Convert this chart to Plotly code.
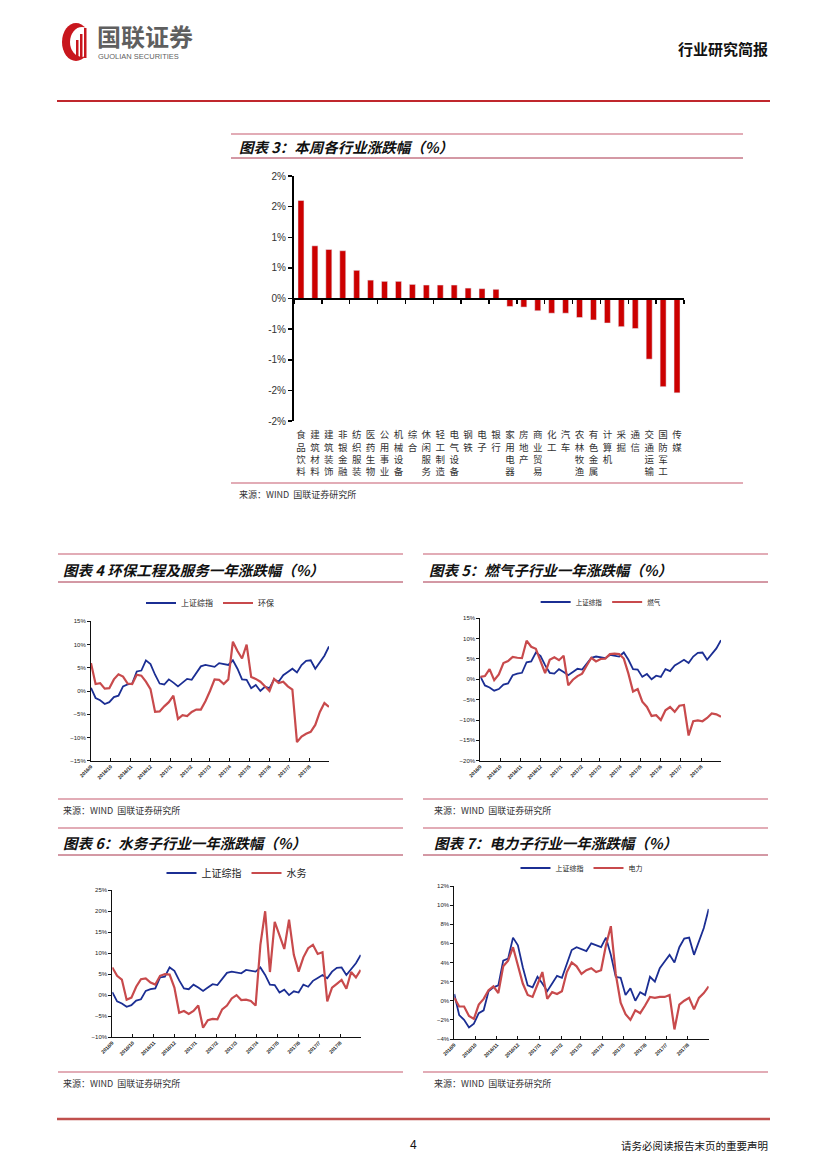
import pandas as pd
import plotly.graph_objects as go

W, H = 827, 1169

# ---------------- data: chart 3 (weekly industry change, %) ----------------
industries = ["食品饮料", "建筑材料", "建筑装饰", "非银金融", "纺织服装", "医药生物", "公用事业",
              "机械设备", "综合", "休闲服务", "轻工制造", "电气设备", "钢铁", "电子", "银行",
              "家用电器", "房地产", "商业贸易", "化工", "汽车", "农林牧渔", "有色金属", "计算机",
              "采掘", "通信", "交通运输", "国防军工", "传媒"]
weekly_change = [1.60, 0.86, 0.80, 0.78, 0.46, 0.30, 0.28, 0.28, 0.23, 0.22, 0.22, 0.22, 0.17,
                 0.16, 0.15, -0.13, -0.14, -0.20, -0.24, -0.24, -0.31, -0.35, -0.40, -0.46,
                 -0.49, -0.99, -1.44, -1.54]
bar_tickvals = [-2, -1.5, -1, -0.5, 0, 0.5, 1, 1.5, 2]
bar_ticktext = ["-2%", "-2%", "-1%", "-1%", "0%", "1%", "1%", "2%", "2%"]

# ---------------- data: one-year change (%), weekly readings ----------------
dates = pd.date_range("2016-09-01", periods=53, freq="7D")
sh_index = [0.7, -1.5, -2.0, -2.8, -2.4, -1.3, -1.0, 1.0, 1.4, 1.6,
            4.2, 4.4, 6.6, 5.8, 3.5, 1.6, 1.4, 2.5, 1.8, 1.0,
            1.8, 2.6, 2.4, 3.8, 5.3, 5.6, 5.4, 5.2, 6.0, 5.8,
            5.6, 6.6, 4.8, 2.5, 2.4, 0.6, 1.3, 0.0, 0.9, 0.6,
            2.5, 2.0, 3.4, 4.1, 4.8, 4.0, 5.6, 6.5, 6.6, 4.8,
            6.3, 7.6, 9.6]
env = [6.0, 1.5, 1.7, 0.5, 0.6, 2.5, 3.6, 3.1, 1.6, 1.5,
       3.5, 3.3, 2.0, 0.4, -4.5, -4.4, -3.3, -2.4, -1.0, -6.0,
       -5.2, -5.4, -4.5, -4.0, -4.0, -2.2, 0.0, 2.5, 2.4, 1.5,
       2.5, 10.6, 8.6, 7.0, 10.0, 3.0, 2.6, 2.0, 1.0, 0.0,
       2.6, 1.7, 2.0, 1.0, 0.3, -11.0, -9.8, -9.2, -8.8, -7.3,
       -4.5, -2.6, -3.4]
gas = [0.6, 0.8, 2.5, -0.2, 1.2, 4.0, 4.5, 5.5, 5.3, 5.2,
       9.5, 8.0, 7.5, 4.4, 1.5, 4.8, 5.4, 4.7, 5.8, -1.5,
       -0.1, 0.8, 1.4, 3.4, 5.3, 4.4, 5.0, 5.1, 6.2, 6.3,
       6.2, 5.1, 1.4, -3.0, -2.4, -5.5, -6.8, -9.0, -8.8, -10.0,
       -7.6, -6.8, -8.0, -6.5, -6.3, -13.8, -10.3, -10.1, -10.3, -9.5,
       -8.4, -8.6, -9.2]
water = [6.6, 4.6, 3.7, -1.1, -0.6, 2.0, 3.8, 4.0, 3.0, 2.5,
         4.6, 5.0, 4.9, 1.8, -4.2, -3.8, -4.5, -3.8, -2.5, -7.8,
         -6.0, -5.7, -5.8, -3.4, -2.5, -0.8, 0.0, -1.2, -1.1, -1.4,
         -2.5, 12.0, 20.0, 5.5, 17.5, 14.0, 11.0, 18.0, 9.6, 5.6,
         9.0, 11.2, 12.0, 9.8, 10.2, -1.5, 1.8, 2.7, 3.6, 1.5,
         5.5, 4.2, 6.0]
power = [0.3, -0.6, -0.6, -1.6, -1.9, -0.4, 0.2, 1.1, 1.5, 0.8,
         3.6, 4.2, 5.6, 3.8, 1.8, 0.6, 0.4, 1.7, 3.0, 0.2,
         0.9, 0.7, 1.0, 3.0, 4.0, 3.6, 2.8, 3.2, 3.4, 3.0,
         3.2, 5.8, 7.8, 2.8, -0.2, -1.4, -2.0, -1.0, -1.3, -0.5,
         0.4, 0.3, 0.4, 0.4, 0.6, -3.0, -0.4, 0.0, 0.3, -0.9,
         0.3, 0.8, 1.5]

BLUE = "#1B2E93"
RED_LINE = "#C84A4C"
BAR_RED = "#CC0000"
CJK = "Noto Sans CJK SC"
LAT = "Liberation Sans"


def px(x):
    return x / W


def py(y):
    return 1 - y / H


fig = go.Figure()

# ---------------- chart 3: bars ----------------
fig.add_trace(go.Bar(x=industries, y=weekly_change, marker_color=BAR_RED, width=0.43,
                     xaxis="x", yaxis="y", showlegend=False, hoverinfo="x+y"))
fig.add_trace(go.Scatter(x=industries, y=[0] * len(industries), mode="lines",
                         line=dict(width=0), opacity=0, xaxis="x2", yaxis="y",
                         showlegend=False, hoverinfo="skip"))

# ---------------- line charts ----------------
line_charts = [
    (3, "环保", env, (91, 329), (621.3, 760.7), (-15, 15), 5, 603, 8),
    (4, "燃气", gas, (480.3, 721), (618.3, 760.7), (-20, 15), 5, 602, 6.5),
    (5, "水务", water, (112.3, 360.7), (890.3, 1037), (-10, 25), 5, 873, 10),
    (6, "电力", power, (454.3, 708.7), (886, 1039), (-4, 12), 2, 868, 7),
]

layout_axes = {}
legends = {}
for i, (n, name, series, xd, yd, yr, dt, ly, lfs) in enumerate(line_charts):
    lg = "legend" if i == 0 else f"legend{i + 1}"
    fig.add_trace(go.Scatter(x=dates, y=sh_index, mode="lines", name="上证综指",
                             line=dict(color=BLUE, width=1.8), xaxis=f"x{n}", yaxis=f"y{n}",
                             legend=lg))
    fig.add_trace(go.Scatter(x=dates, y=series, mode="lines", name=name,
                             line=dict(color=RED_LINE, width=2.2), xaxis=f"x{n}", yaxis=f"y{n}",
                             legend=lg))
    layout_axes[f"xaxis{n}"] = dict(
        domain=[px(xd[0]), px(xd[1])], anchor=f"y{n}", type="date",
        range=["2016-09-01", "2017-08-31"], dtick="M1", tick0="2016-09-01",
        tickformat="%Y/%-m", tickangle=-45,
        tickfont=dict(size=5, family=LAT, color="#222", weight="bold"),
        showline=True, linecolor="#111", linewidth=1, ticks="inside", ticklen=3,
        tickcolor="#111", showgrid=False, zeroline=False, automargin=False)
    layout_axes[f"yaxis{n}"] = dict(
        domain=[py(yd[1]), py(yd[0])], anchor=f"x{n}", range=list(yr), dtick=dt,
        ticksuffix="%", tickfont=dict(size=6, family=LAT, color="#222"),
        showline=True, linecolor="#111", linewidth=1, ticks="outside", ticklen=3,
        tickcolor="#111", showgrid=False, zeroline=False, automargin=False)
    legends[lg] = dict(orientation="h", x=px((xd[0] + xd[1]) / 2), xanchor="center",
                       y=py(ly), yanchor="middle", bgcolor="rgba(0,0,0,0)",
                       font=dict(size=lfs, family=CJK, color="#222"),
                       itemwidth=30, tracegroupgap=0, traceorder="normal")

stacked = ["<br>".join(c) for c in industries]

layout = dict(
    width=W, height=H, margin=dict(l=0, r=0, t=0, b=0, pad=0, autoexpand=False),
    paper_bgcolor="white", plot_bgcolor="rgba(0,0,0,0)",
    font=dict(family=CJK, color="#222"),
    bargap=0.57,
    xaxis=dict(domain=[px(294), px(684)], anchor="y", type="category",
               range=[-0.5, len(industries) - 0.5], tickvals=industries, ticktext=stacked,
               tickangle=0, ticks="outside", ticklen=5, tickcolor="rgba(0,0,0,0)",
               tickfont=dict(size=9.5, family=CJK, color="#333"),
               showline=False, showgrid=False, zeroline=False, automargin=False),
    xaxis2=dict(overlaying="x", anchor="free", position=py(298.5), type="category",
                range=[-0.5, len(industries) - 0.5], showline=True, linecolor="#000",
                linewidth=2, ticks="outside", ticklen=4, tickwidth=1.5, tickcolor="#000",
                tickson="boundaries", showticklabels=False, showgrid=False, zeroline=False,
                automargin=False),
    yaxis=dict(domain=[py(421), py(176)], anchor="x", range=[-2, 2],
               tickvals=bar_tickvals, ticktext=bar_ticktext,
               tickfont=dict(size=10, family=LAT, color="#333"),
               showline=True, linecolor="#000", linewidth=2, ticks="outside", ticklen=4,
               tickwidth=1.5, tickcolor="#000", showgrid=False, zeroline=False,
               automargin=False),
)
layout.update(layout_axes)
layout.update(legends)
fig.update_layout(**layout)

# ---------------- page decoration ----------------
shapes = []


def hline(x0, x1, y, color, width):
    shapes.append(dict(type="line", xref="paper", yref="paper", x0=px(x0), x1=px(x1),
                       y0=py(y), y1=py(y), line=dict(color=color, width=width)))


PINK = "#D9909E"
MAROON = "#A8324A"
hline(57, 770, 101, "#C0272D", 2)
hline(57, 770, 1119, "#C0504D", 2.5)
hline(231, 743, 134, PINK, 1.5)
hline(231, 743, 158, MAROON, 1)
hline(231, 743, 483, PINK, 1.5)
for (x0, x1) in [(58, 403), (423, 768)]:
    hline(x0, x1, 554, PINK, 1.5)
    hline(x0, x1, 582, MAROON, 1)
    hline(x0, x1, 799, PINK, 1.5)
    hline(x0, x1, 828, PINK, 1.5)
    hline(x0, x1, 855, MAROON, 1)
    hline(x0, x1, 1072, PINK, 1.5)

# logo emblem
shapes.append(dict(type="circle", xref="paper", yref="paper", x0=px(62), x1=px(90),
                   y0=py(61), y1=py(23), fillcolor="#C8161D", line=dict(width=0)))
shapes.append(dict(type="circle", xref="paper", yref="paper", x0=px(70), x1=px(94),
                   y0=py(57), y1=py(27), fillcolor="white", line=dict(width=0)))
for (bx, top) in [(76, 40), (80, 34), (84, 28)]:
    shapes.append(dict(type="rect", xref="paper", yref="paper", x0=px(bx), x1=px(bx + 2.5),
                       y0=py(58), y1=py(top), fillcolor="#C8161D", line=dict(width=0)))

annotations = []


def text(x, y, s, size, color="#222", anchor="left", family=CJK, weight="normal", style="normal"):
    annotations.append(dict(xref="paper", yref="paper", x=px(x), y=py(y), text=s,
                            showarrow=False, xanchor=anchor, yanchor="middle",
                            font=dict(size=size, color=color, family=family,
                                      weight=weight, style=style)))


text(95, 36, "国联证券", 24, color="#5F5F5F", weight="bold")
text(96, 56, "GUOLIAN SECURITIES", 7.5, color="#5F5F5F", family=LAT)
text(770, 48, "行业研究简报", 15, color="#111", anchor="right", weight="bold")
text(413, 1145, "4", 12, color="#111", anchor="center", family=LAT)
text(770, 1145, "请务必阅读报告末页的重要声明", 10.5, color="#111", anchor="right")

titles = [
    (237, 146, "图表 3：本周各行业涨跌幅（%）"),
    (61, 569, "图表 4 环保工程及服务一年涨跌幅（%）"),
    (427, 569, "图表 5：燃气子行业一年涨跌幅（%）"),
    (61, 842, "图表 6：水务子行业一年涨跌幅（%）"),
    (432, 842, "图表 7：电力子行业一年涨跌幅（%）"),
]
for (tx, ty, tt) in titles:
    text(tx, ty, "<b><i>" + tt + "</i></b>", 14.5, color="#111", weight="bold", style="italic")

src = "来源：WIND  国联证券研究所"
for (sx, sy) in [(237, 494), (61, 811), (432, 811), (61, 1083), (432, 1083)]:
    text(sx, sy, src, 9, color="#333")

fig.update_layout(shapes=shapes, annotations=annotations)

fig.write_html(
    "out.html",
    config={"displayModeBar": False, "staticPlot": True},
    post_script="document.body.style.margin='0';document.body.style.overflow='hidden';"
                "document.documentElement.style.overflow='hidden';",
)
